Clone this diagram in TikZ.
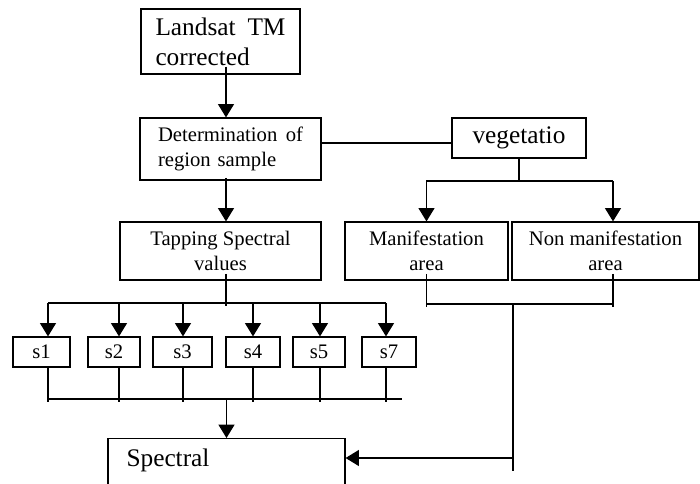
\documentclass[tikz,border=0pt]{standalone}
\usepackage{fontspec}
\setmainfont{Liberation Serif}
\usetikzlibrary{arrows.meta, positioning, calc}

\begin{document}
\begin{tikzpicture}[
    x=0.75pt, y=-0.75pt,
    box/.style={draw, line width=0.9pt, inner sep=0pt, align=center},
    big/.style={font=\fontsize{19}{22.5}\selectfont},
    mid/.style={font=\fontsize{15.5}{19}\selectfont},
    arrow/.style={-{Triangle[length=10pt, width=12pt]}, line width=0.9pt},
    line/.style={line width=0.9pt}
]
    \useasboundingbox (0,0) rectangle (700,483);
    \clip (0,0) rectangle (700,483);

    % top chain
    \node[box, big, minimum width=119.25pt, minimum height=48.75pt, text width=97.5pt, align=left]
        at (220.5,41.5) (landsat) {Landsat\hfill TM\\corrected};
    \node[box, mid, minimum width=135.75pt, minimum height=46.5pt, text width=108.75pt, align=left]
        at (230.5,149) (region) {Determination\hfill of\\region sample};
    \node[box, big, minimum width=100.5pt, minimum height=30pt] at (519,138) (veg) {vegetatio};
    \node[box, mid, minimum width=150.75pt, minimum height=43.5pt] at (220.5,251) (tapping) {Tapping Spectral\\values};
    \node[box, mid, minimum width=122.25pt, minimum height=43.5pt] at (426.5,251) (manif) {Manifestation\\area};
    \node[box, mid, minimum width=140.25pt, minimum height=43.5pt] at (605.5,251) (nonmanif) {Non manifestation\\area};

    % bands
    \foreach \n/\cx/\w/\ax in {s1/41.5/42.75/48, s2/114/39/119, s3/182.5/44.25/183,
                               s4/253/40.5/253, s5/319/39/320, s7/389/40.5/386} {
        \node[box, mid, minimum width=\w pt, minimum height=22.5pt] at (\cx,352) (\n) {\n};
        \coordinate (a\n) at (\ax,303);
    }

    \node[box, big, anchor=north, minimum width=177.75pt, text width=150pt, align=left,
          inner ysep=7.5pt, text depth=22.5pt] at (226.5,438) (spectral) {Spectral};

    % helper coordinates
    \coordinate (spine) at (226,0);
    \coordinate (vj) at (0,181);
    \coordinate (nx) at (613,0);
    \coordinate (mj) at (0,304);
    \coordinate (rx) at (513,0);
    \coordinate (tj) at (0,303);
    \coordinate (bj) at (0,399);
    \coordinate (bend) at (402,399);

    % connectors
    \draw[arrow] ([yshift=6pt]landsat.south -| spine) -- (region.north -| spine);
    \draw[line] ([yshift=4.5pt]region.east) coordinate (d1) -- (d1 -| veg.west);
    \draw[arrow] ([yshift=2pt]region.south -| spine) -- (tapping.north -| spine);

    \draw[line] (veg.south) -- (veg.south |- vj);
    \draw[arrow] (vj -| nx) -- (vj -| manif) -- (manif.north);
    \draw[arrow] (vj -| nx) -- (nx |- nonmanif.north);

    \draw[line] ([yshift=5pt]manif.south) -- ([yshift=-2pt]manif.south |- mj);
    \draw[line] ([yshift=5pt]nonmanif.south -| nx) -- ([yshift=-2pt]nx |- mj);
    \draw[line] (mj -| manif) -- (mj -| nx);
    \draw[line] (rx |- mj) -- (rx |- 0,471);
    \draw[arrow] (rx |- 0,458) coordinate (sa) -- (sa -| spectral.east);

    \draw[line] ([yshift=5pt]tapping.south -| spine) -- ([yshift=-2pt]spine |- tj);
    \draw[line] (as1) -- (as7);
    \foreach \n in {s1, s2, s3, s4, s5, s7} {
        \draw[arrow] (a\n) -- (a\n |- \n.north);
        \draw[line] (a\n |- \n.south) -- ([yshift=-2.5pt]a\n |- bj);
    }
    \draw[line] (bj -| as1) -- (bend);
    \draw[arrow] (spectral.north |- bj) -- (spectral.north);
\end{tikzpicture}
\end{document}
